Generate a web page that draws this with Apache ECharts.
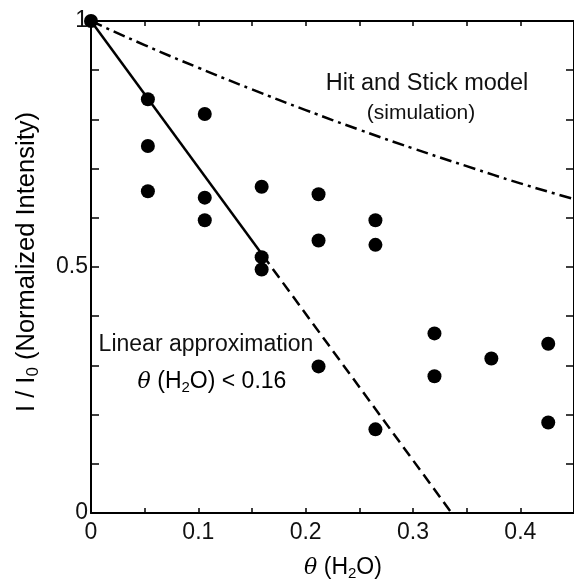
<!DOCTYPE html>
<html>
<head>
<meta charset="utf-8">
<script src="https://cdn.jsdelivr.net/npm/echarts@6/dist/echarts.min.js"></script>
<style>
html,body{margin:0;padding:0;background:#fff;}
#c{width:574px;height:585px;}
</style>
</head>
<body>
<div id="c"></div>
<script>
// Measured data (theta(H2O) coverage vs normalized intensity)
const coverage  = [0, 0.053, 0.053, 0.053, 0.106, 0.106, 0.106, 0.159, 0.159, 0.159, 0.212, 0.212, 0.212, 0.265, 0.265, 0.265, 0.320, 0.320, 0.373, 0.426, 0.426];
const intensity = [1, 0.841, 0.746, 0.654, 0.811, 0.641, 0.595, 0.663, 0.520, 0.495, 0.648, 0.554, 0.298, 0.595, 0.545, 0.170, 0.365, 0.278, 0.314, 0.344, 0.184];

// Linear approximation (solid part for theta < 0.16, dashed extension)
const linTheta = [0, 0.16];
const linI     = [1, 0.524];
const extTheta = [0.16, 0.336];
const extI     = [0.524, 0];

// Hit and Stick model (simulation)
const simTheta = [0, 0.05, 0.10, 0.15, 0.20, 0.25, 0.30, 0.35, 0.40, 0.45];
const simI     = [1, 0.951, 0.905, 0.861, 0.819, 0.779, 0.741, 0.705, 0.670, 0.638];

// Axis ticks
const xTickLabels = ['0', '0.1', '0.2', '0.3', '0.4'];
const yTickLabels = ['0', '0.5', '1'];

const zip = (a, b) => a.map((v, i) => [v, b[i]]);

const chart = echarts.init(document.getElementById('c'), null, {renderer: 'canvas'});
const FONT = 'Liberation Sans, Arial, sans-serif';
const black = '#000';

const xLabelFmt = v => {
  const s = String(Math.round(v * 10) / 10);
  return (Math.abs(v * 10 - Math.round(v * 10)) < 1e-6 && xTickLabels.indexOf(s) >= 0) ? s : '';
};
const yLabelFmt = v => {
  const s = String(Math.round(v * 10) / 10);
  return yTickLabels.indexOf(s) >= 0 && Math.abs(v * 2 - Math.round(v * 2)) < 1e-6 ? s : '';
};

const baseX = {
  type: 'value', min: 0, max: 0.45, interval: 0.05,
  splitLine: {show: false},
  axisLine: {show: true, onZero: false, lineStyle: {color: black, width: 2}},
  axisTick: {show: true, inside: true, length: 5, lineStyle: {color: black, width: 1.5}},
};
const baseY = {
  type: 'value', min: 0, max: 1, interval: 0.1,
  splitLine: {show: false},
  axisLine: {show: true, onZero: false, lineStyle: {color: black, width: 2}},
  axisTick: {show: true, inside: true, length: 8, lineStyle: {color: black, width: 1.5}},
};

const rich = {
  n: {fontFamily: FONT, fontSize: 23, color: '#111'},
  th: {fontFamily: 'DejaVu Serif, serif', fontStyle: 'italic', fontSize: 22, color: '#111'},
  sub: {fontFamily: FONT, fontSize: 15, color: '#111', padding: [12, 0, 0, 0]},
};
const richY = {
  n: {fontFamily: FONT, fontSize: 25.5, color: '#111'},
  sub: {fontFamily: FONT, fontSize: 17, color: '#111', padding: [13, 0, 0, 0]},
};

chart.setOption({
  animation: false,
  backgroundColor: '#fff',
  grid: {left: 91, top: 21, width: 489, height: 492, containLabel: false},
  xAxis: [
    Object.assign({}, baseX, {
      position: 'bottom',
      axisLabel: {show: true, formatter: xLabelFmt, color: '#111', fontSize: 23, fontFamily: FONT, margin: 8, showMaxLabel: false}
    }),
    Object.assign({}, baseX, {position: 'top', axisLabel: {show: false}})
  ],
  yAxis: [
    Object.assign({}, baseY, {
      position: 'left',
      axisLabel: {show: true, formatter: yLabelFmt, color: '#111', fontSize: 23, fontFamily: FONT, margin: 3}
    }),
    Object.assign({}, baseY, {position: 'right', axisLabel: {show: false}})
  ],
  series: [
    {
      type: 'line', data: zip(simTheta, simI), showSymbol: false, smooth: true,
      lineStyle: {color: black, width: 2.5, type: [12, 5, 3, 5]}, z: 2
    },
    {
      type: 'line', data: zip(linTheta, linI), showSymbol: false,
      lineStyle: {color: black, width: 2.5, type: 'solid'}, z: 2
    },
    {
      type: 'line', data: zip(extTheta, extI), showSymbol: false,
      lineStyle: {color: black, width: 2.5, type: [11, 6]}, z: 2
    },
    {
      type: 'scatter', data: zip(coverage, intensity), symbol: 'circle', symbolSize: 14,
      itemStyle: {color: black, opacity: 1}, z: 3
    }
  ],
  graphic: [
    {type: 'text', x: 427, y: 84, style: {text: 'Hit and Stick model', font: '23.5px ' + FONT, fill: '#111', textAlign: 'center', textVerticalAlign: 'middle'}},
    {type: 'text', x: 421, y: 113, style: {text: '(simulation)', font: '21px ' + FONT, fill: '#111', textAlign: 'center', textVerticalAlign: 'middle'}},
    {type: 'text', x: 206, y: 345, style: {text: 'Linear approximation', font: '23px ' + FONT, fill: '#111', textAlign: 'center', textVerticalAlign: 'middle'}},
    {type: 'text', x: 212, y: 382, style: {text: '{th|θ}{n| (H}{sub|2}{n|O) < 0.16}', rich: rich, textAlign: 'center', textVerticalAlign: 'middle'}},
    {type: 'text', x: 343, y: 568, style: {text: '{th|θ}{n| (H}{sub|2}{n|O)}', rich: rich, textAlign: 'center', textVerticalAlign: 'middle'}},
    {type: 'text', x: 27, y: 262, rotation: Math.PI / 2, style: {text: '{n|I / I}{sub|0}{n| (Normalized Intensity)}', rich: richY, textAlign: 'center', textVerticalAlign: 'middle'}}
  ]
});
</script>
</body>
</html>
